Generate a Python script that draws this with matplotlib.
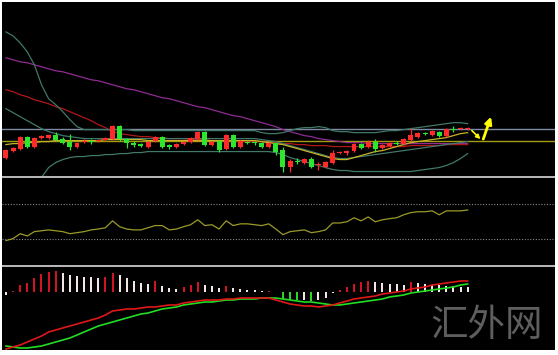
import matplotlib
matplotlib.use("Agg")
import matplotlib.pyplot as plt
from matplotlib.patches import Rectangle
import numpy as np

# ---------------- data ----------------
opens = [22, 29, 31, 43, 33, 42, 42, 45, 41, 38,
         33, 38, 39, 39, 40, 41, 54, 41, 37, 36,
         33, 39, 43, 35, 33, 36, 38, 41, 48, 35,
         39, 31, 45, 33, 38, 38, 37, 33, 37, 30,
         13, 19, 17, 21, 15, 13, 17, 27, 27, 29,
         36, 33, 38, 32, 34, 37, 36, 40, 43, 47,
         45, 48, 44, 51, 51, 51]
closes = [30, 32, 43, 33, 42, 44, 45, 40, 37, 33,
          37, 39, 38, 40, 42, 54, 41, 37, 35, 34,
          38, 43, 33, 33, 36, 38, 42, 48, 35, 38,
          30, 45, 33, 39, 37, 37, 33, 37, 28, 13,
          19, 18, 21, 13, 16, 18, 27, 28, 29, 36,
          32, 38, 31, 35, 37, 36, 41, 45, 47, 46,
          49, 44, 51, 50, 52, 52]
highs = [31, 33, 44, 44, 43, 45, 46, 48, 43, 46,
         38, 41, 41, 41, 43, 55, 55, 42, 39, 37,
         39, 44, 44, 36, 37, 39, 43, 49, 49, 39,
         40, 46, 46, 40, 39, 39, 38, 38, 38, 33,
         21, 22, 22, 23, 18, 19, 30, 29, 30, 37,
         37, 40, 41, 36, 38, 39, 42, 52, 48, 48,
         50, 49, 52, 54, 53, 53]
lows = [21, 28, 30, 32, 32, 41, 41, 39, 36, 30,
        32, 37, 36, 38, 39, 40, 39, 32, 33, 33,
        32, 38, 32, 31, 32, 35, 37, 40, 34, 34,
        28, 30, 32, 32, 36, 35, 32, 32, 25, 8,
        8, 16, 16, 12, 10, 12, 16, 26, 25, 28,
        31, 32, 28, 31, 33, 35, 35, 39, 42, 45,
        44, 43, 43, 48, 50, 50]

ma_purple = [122, 120, 118, 117, 115, 113, 111, 109, 108, 106,
             104, 102, 100, 99, 97, 95, 93, 91, 90, 88,
             86, 84, 82, 81, 79, 77, 75, 73, 72, 70,
             68, 66, 64, 63, 61, 59, 57, 55, 53, 50,
             48, 46, 44, 43, 41, 40, 39, 38, 37, 37,
             37, 36, 36, 36, 36, 36, 36, 36, 36, 36,
             36, 36, 36, 36, 36, 36]
ma_red = [90, 88, 85, 83, 80, 78, 76, 73, 71, 68,
          65, 62, 59, 55, 52, 48, 46, 45, 44, 43,
          43, 42, 42, 41, 41, 41, 40, 40, 40, 39,
          39, 39, 39, 38, 38, 38, 38, 37, 37, 36,
          36, 35, 35, 34, 34, 34, 33, 33, 33, 33,
          33, 33, 33, 33, 33, 33, 33, 34, 34, 34,
          34, 34, 35, 35, 35, 35]
band_upper = [148, 144, 137, 128, 115, 95, 81, 75, 68, 60,
              53, 50, 50, 50, 50, 50, 50, 50, 49, 49,
              49, 49, 49, 49, 49, 49, 49, 49, 49, 49,
              49, 49, 49, 49, 49, 49, 47, 46, 46, 47,
              49, 51, 52, 52, 53, 52, 49, 48, 48, 47,
              47, 47, 47, 48, 49, 49, 50, 51, 52, 53,
              54, 55, 56, 57, 57, 56]
band_lower = [-20, -15, -10, -6, -2, 2, 12, 17, 20, 22,
              23, 23, 24, 24, 25, 25, 26, 26, 27, 27,
              28, 28, 28, 28, 28, 28, 28, 28, 28, 28,
              28, 28, 28, 28, 28, 28, 28, 28, 27, 25,
              22, 20, 18, 16, 14, 12, 10, 9, 9, 8,
              8, 8, 8, 8, 8, 8, 8, 8, 9, 10,
              11, 12, 14, 17, 21, 26]
band_mid = [71, 67, 63, 59, 55, 51, 48, 46, 44, 43,
            42, 41, 41, 41, 41, 41, 41, 41, 41, 41,
            41, 41, 41, 41, 41, 41, 41, 41, 41, 41,
            41, 41, 41, 41, 41, 41, 40, 39, 38, 36,
            34, 32, 30, 28, 26, 24, 22, 21, 21, 22,
            23, 24, 25, 26, 27, 28, 29, 30, 31, 32,
            33, 34, 35, 36, 37, 38]
ma_yellow = [35, 36, 36, 37, 37, 38, 38, 39, 39, 39,
             39, 39, 39, 39, 40, 40, 40, 40, 40, 40,
             39, 39, 39, 39, 39, 39, 39, 39, 39, 39,
             39, 39, 39, 39, 39, 39, 38, 37, 36, 35,
             33, 31, 29, 27, 25, 23, 21, 20, 20, 22,
             24, 26, 28, 29, 31, 33, 35, 37, 38, 39,
             40, 41, 42, 44, 46, 47]
level_lines = [51, 39]

rsi = [27.6, 30, 35.6, 33, 38, 39, 40, 39, 38, 35.6,
       36.8, 38, 40, 41, 42.5, 50.5, 43.7, 41, 40, 40,
       42.5, 45, 45, 40, 41, 43.7, 46, 51.7, 45, 46,
       41, 50.5, 45, 47, 47, 46, 45, 47, 41, 34.5,
       38, 39, 40, 36.8, 38, 40, 48, 48, 49.4, 54,
       50.5, 55, 49.4, 51.7, 53, 54, 57.5, 60, 61, 61,
       62, 57.5, 62, 62, 62, 63]
rsi_levels = [70, 30]

macd_line = [-57, -55, -53, -50, -47, -44, -40, -38, -36, -34,
             -32, -30, -28, -26, -23, -19, -18, -17, -17, -16,
             -15, -15, -14, -13, -13, -11, -10, -9, -8, -8,
             -8, -7, -7, -6, -6, -6, -6, -6, -8, -10,
             -12, -13, -14, -14, -15, -14, -13, -11, -9, -7,
             -6, -5, -4, -2, -1, 0, 1, 3, 4, 5,
             7, 8, 9, 10, 11, 11]
signal_line = [-54, -55, -56, -56, -55, -54, -52, -50, -48, -46,
               -43, -40, -37, -34, -32, -30, -28, -26, -24, -22,
               -21, -19, -17, -16, -15, -13, -12, -11, -10, -10,
               -9, -8, -8, -7, -7, -7, -6, -6, -6, -7,
               -8, -9, -10, -10, -11, -12, -13, -13, -12, -11,
               -10, -9, -8, -7, -5, -4, -3, -1, 0, 1,
               2, 3, 4, 5, 7, 8]
macd_hist = [-3, 1, 7, 9, 14, 18, 20, 21, 19, 17,
             16, 15, 15, 14, 15, 19, 17, 14, 11, 9,
             8.5, 11, 6, 4, 3.5, 5, 7, 10, 7, 6,
             4, 6, 4, 3, 2.5, 2, 1, 1.5, 0.5, -7,
             -7.5, -8, -7.5, -9, -8, -6, -1, 2, 5, 8,
             10, 11, 10, 9, 8.5, 8, 7.5, 10, 9, 8,
             7.5, 7, 6.5, 6, 5.5, 5]

watermark = "汇外网"

# ---------------- layout ----------------
W, H = 558, 355
fig = plt.figure(figsize=(W / 100, H / 100), dpi=100, facecolor="#ffffff")


def rect(x0, y0, x1, y1):
    return [x0 / W, 1 - y1 / H, (x1 - x0) / W, (y1 - y0) / H]


ax_main = fig.add_axes(rect(2, 2, 555, 175.5))
ax_rsi = fig.add_axes(rect(2, 178, 555, 264.5))
ax_macd = fig.add_axes(rect(2, 267, 555, 350))

for y0, y1 in [(175.5, 178), (264.5, 267)]:
    fig.patches.append(Rectangle((2 / W, 1 - y1 / H), 553 / W, (y1 - y0) / H,
                                 transform=fig.transFigure, facecolor="#b4b4b4",
                                 edgecolor="none"))

x = np.arange(len(closes))
XLIM = (-0.56, 77.3)
for ax in (ax_main, ax_rsi, ax_macd):
    ax.set_facecolor("black")
    ax.set_xlim(*XLIM)
    ax.set_xticks([])
    ax.set_yticks([])
    for s in ax.spines.values():
        s.set_visible(False)

# ---------------- main panel ----------------
ax_main.set_ylim(4, 178)
ax_main.axhline(level_lines[0], color="#7f8aa3", lw=1.0, zorder=1)
ax_main.axhline(level_lines[1], color="#a49c10", lw=1.0, zorder=1)

ax_main.plot(x, ma_purple, color="#8e2c92", lw=0.9, zorder=2)
ax_main.plot(x, ma_red, color="#b01818", lw=0.9, zorder=2)
ax_main.plot(x, band_upper, color="#40786a", lw=0.9, zorder=2)
ax_main.plot(x, band_lower, color="#40786a", lw=0.9, zorder=2)
ax_main.plot(x, band_mid, color="#40786a", lw=0.9, zorder=2)
ax_main.plot(x, ma_yellow, color="#c8b428", lw=0.9, zorder=2)

o = np.array(opens, float)
c = np.array(closes, float)
up = c >= o
cols = np.where(up, "#ff2a2a", "#2ee62e")
ax_main.vlines(x, lows, highs, colors=cols, lw=0.9, zorder=3)
body = np.maximum(np.abs(c - o), 0.8)
ax_main.bar(x, body, bottom=np.minimum(o, c), width=0.7, color=cols,
            edgecolor="none", zorder=4)

n = len(closes)
lvl = level_lines[1]
ax_main.annotate("", xy=(n + 0.8, lvl + 1.5), xytext=(n - 0.4, lvl + 10),
                 arrowprops=dict(arrowstyle="-|>", color="#ffff00", lw=1.2,
                                 mutation_scale=6, shrinkA=0, shrinkB=0))
ax_main.annotate("", xy=(n + 2.3, lvl + 24), xytext=(n + 1.2, lvl + 1.5),
                 arrowprops=dict(arrowstyle="-|>", color="#ffff00", lw=2.0,
                                 mutation_scale=10, shrinkA=0, shrinkB=0))

# ---------------- RSI panel ----------------
ax_rsi.set_ylim(0, 100)
for lv in rsi_levels:
    ax_rsi.axhline(lv, color="#8a8a8a", lw=0.8, ls=(0, (1, 1.5)))
ax_rsi.plot(x, rsi, color="#9a9a28", lw=0.9)

# ---------------- MACD panel ----------------
ax_macd.set_ylim(-58, 25)
h = np.array(macd_hist, float)
prev = np.concatenate([[h[0]], h[:-1]])
hcols = []
for i, v in enumerate(h):
    growing = abs(v) > abs(prev[i]) or (np.sign(v) != np.sign(prev[i]))
    if i == 0:
        growing = False
    if growing:
        hcols.append("#d01424" if v > 0 else "#30d030")
    else:
        hcols.append("#f4e6e6")
ax_macd.bar(x, h, width=0.28, color=hcols, edgecolor="none", zorder=2)
ax_macd.plot(x, signal_line, color="#22dd22", lw=1.2, zorder=3)
ax_macd.plot(x, macd_line, color="#e01818", lw=1.2, zorder=3)

fig.text(430 / W, 1 - 345 / H, watermark, fontsize=27, color="#5e5e5e",
         family=["Noto Sans CJK SC", "DejaVu Sans"], ha="left", va="bottom")

fig.savefig("out.png", dpi=100, facecolor=fig.get_facecolor())
